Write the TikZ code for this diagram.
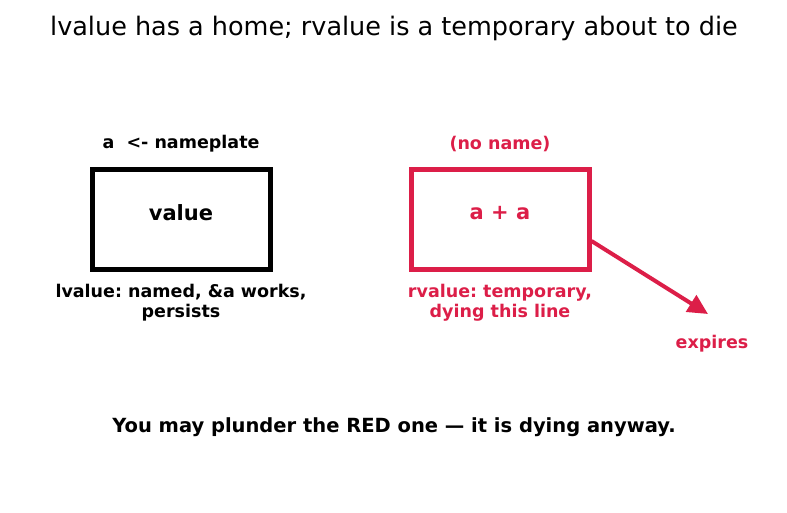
\documentclass[tikz,border=0pt]{standalone}
\usepackage{fontspec}
\setmainfont{DejaVu Sans}
\usetikzlibrary{arrows.meta,positioning}
\definecolor{dying}{RGB}{220,30,72}
\frenchspacing

\begin{document}
\begin{tikzpicture}[
  x=1pt, y=-1pt,
  every node/.style={align=center},
  slot/.style={draw, line width=5pt, minimum width=178pt, minimum height=100pt},
  inside/.style={font=\bfseries\fontsize{21}{24}\selectfont},
  tag/.style={font=\bfseries\fontsize{17.5}{20}\selectfont}
]
\useasboundingbox (0,0) rectangle (787,512);
\node[font=\fontsize{25.5}{30}\selectfont] (title) at (394,28)
  {lvalue has a home; rvalue is a temporary about to die};

\node[slot] (lv) at (181,219) {};
\node[inside] (lvval) at ([yshift=6pt]lv.center) {value};
\node[tag, above=11pt of lv] (lvname) {a\ \ <- nameplate};
\node[tag, below=9pt of lv] (lvnote) {lvalue: named, \&a works,\\persists};

\node[slot, draw=dying] (rv) at (500,219) {};
\node[inside, text=dying] (rvval) at ([yshift=6pt]rv.center) {a + a};
\node[tag, text=dying, above=11pt of rv] (rvname) {(no name)};
\node[tag, text=dying, below=9pt of rv] (rvnote) {rvalue: temporary,\\dying this line};

\coordinate (gone) at (708,314);
\node[tag, text=dying] (expires) at (712,344) {expires};
\draw[dying, line width=4pt, -{Triangle[length=20pt,width=19pt]}]
  ([yshift=-22pt]rv.east) -- (gone);

\node[font=\bfseries\fontsize{19.5}{23}\selectfont] (moral) at (394,427)
  {You may plunder the RED one — it is dying anyway.};
\end{tikzpicture}
\end{document}
